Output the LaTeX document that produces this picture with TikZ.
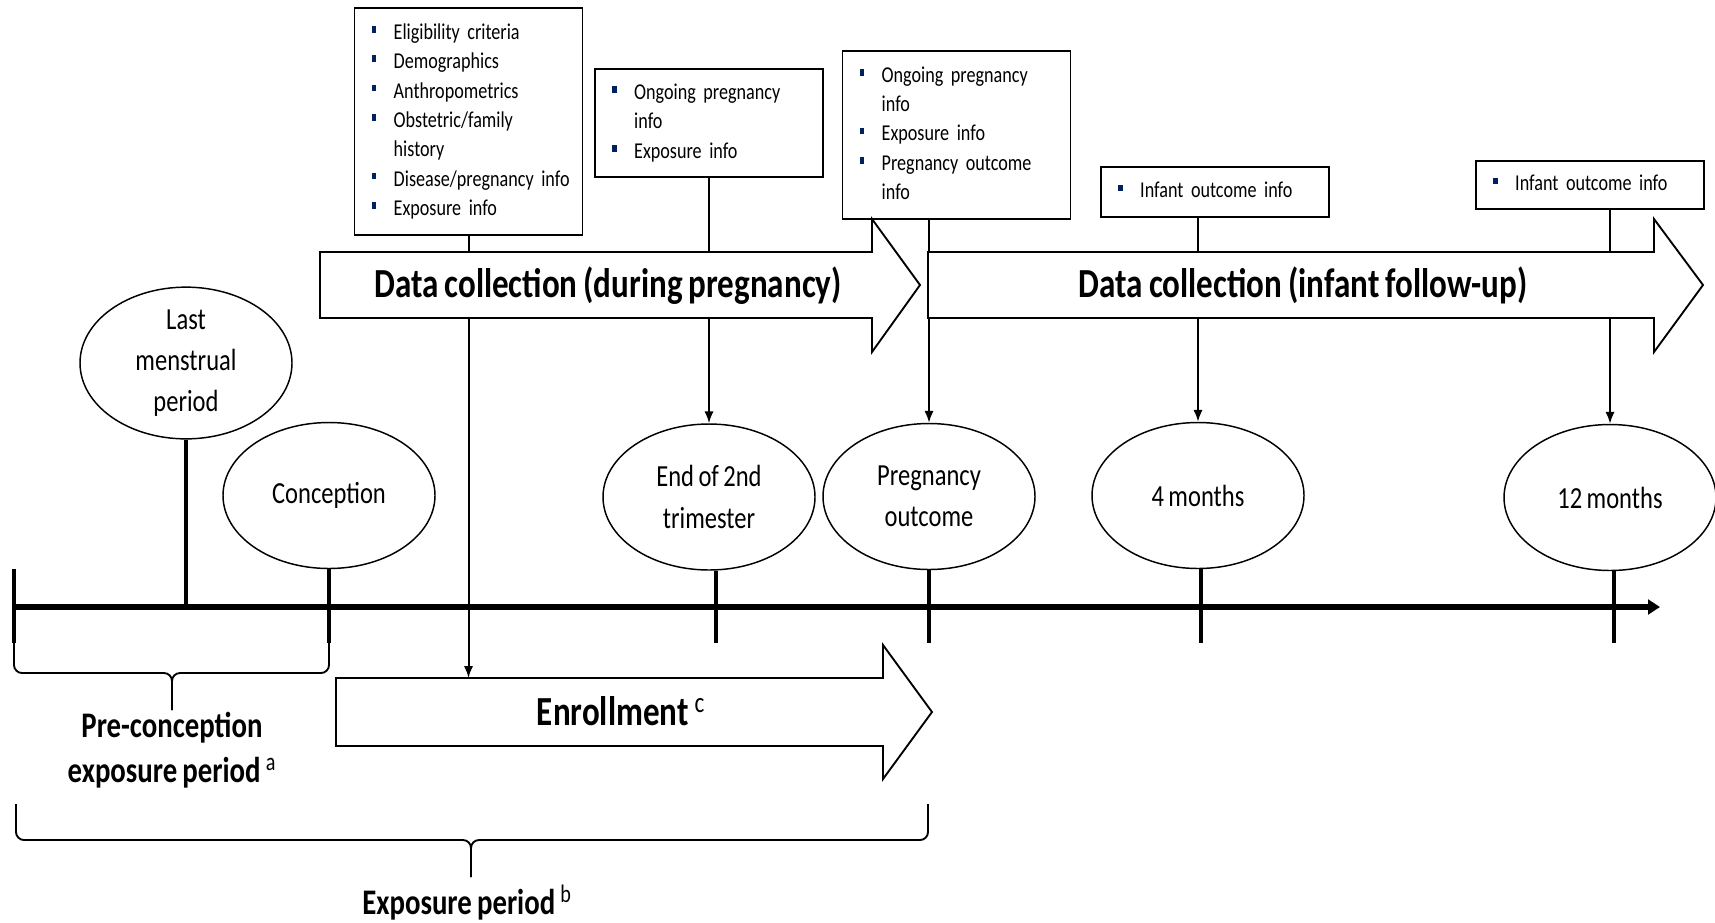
\documentclass[tikz,border=0pt]{standalone}
\usepackage{fontspec}
\setmainfont{Carlito}[FakeStretch=0.8,WordSpace=0.8]
\usepackage{tikz}
\usetikzlibrary{shapes.geometric,arrows.meta,calc}
\definecolor{bulletblue}{RGB}{0,32,96}
\newcommand{\blt}{\textcolor{bulletblue}{\rule[5pt]{3.4pt}{5pt}}}

\begin{document}
\begin{tikzpicture}[x=0.75pt,y=-0.75pt,
  event/.style={draw,ellipse,line width=1.1pt,minimum width=159pt,minimum height=109.5pt,
    inner sep=0pt,align=center,font=\fontsize{23}{31}\selectfont},
  infobox/.style={draw,line width=1.4pt,text width=145pt,inner xsep=13pt,inner ysep=0pt,
    align=left,font=\fontsize{17}{22}\selectfont},
  bigarrow/.style={draw,line width=1.4pt,fill=white,line join=miter},
  bigtext/.style={anchor=base,font=\fontsize{31}{36}\selectfont\bfseries},
  periodtext/.style={align=center,font=\fontsize{27}{34}\selectfont\bfseries},
  stem/.style={line width=3pt},
  feed/.style={line width=1.5pt,-{Latex[length=9pt,width=7pt]}},
  brace/.style={line width=1.4pt,rounded corners=6pt}]
  \useasboundingbox (0,0) rectangle (1715,922);

  % time points
  \node[event] (lmp) at (186,363) {Last\\menstrual\\period};
  \node[event] (con) at (329,495.5) {Conception};
  \node[event] (tri) at (709,497) {End of 2nd\\trimester};
  \node[event] (po) at (929,496.5) {Pregnancy\\outcome};
  \node[event] (m4) at (1198,495.5) {4 months};
  \node[event] (m12) at (1610,497.5) {12 months};

  % what is collected
  \node[infobox,minimum height=170pt] (elig) at (468.5,121.5) {%
    \begin{tabular}{@{}l@{\hspace{13pt}}l@{}}
      \blt & Eligibility criteria\\
      \blt & Demographics\\
      \blt & Anthropometrics\\
      \blt & Obstetric/family\\
           & history\\
      \blt & Disease/pregnancy info\\
      \blt & Exposure info
    \end{tabular}};
  \node[infobox,minimum height=81pt] (dp2) at (709,123) {%
    \begin{tabular}{@{}l@{\hspace{13pt}}l@{}}
      \blt & Ongoing pregnancy\\
           & info\\
      \blt & Exposure info
    \end{tabular}};
  \node[infobox,minimum height=126pt] (dpo) at (956.5,135) {%
    \begin{tabular}{@{}l@{\hspace{13pt}}l@{}}
      \blt & Ongoing pregnancy\\
           & info\\
      \blt & Exposure info\\
      \blt & Pregnancy outcome\\
           & info
    \end{tabular}};
  \node[infobox,minimum height=37.5pt] (inf4) at (1215,192) {%
    \begin{tabular}{@{}l@{\hspace{13pt}}l@{}}
      \blt & Infant outcome info
    \end{tabular}};
  \node[infobox,minimum height=36pt] (inf12) at (1590,185) {%
    \begin{tabular}{@{}l@{\hspace{13pt}}l@{}}
      \blt & Infant outcome info
    \end{tabular}};

  % timeline
  \coordinate (axis) at (14,607);
  \coordinate (axisend) at (1660,607);
  \coordinate (enrtop) at (469,678);
  \path[draw,line width=4pt,-{Triangle[length=9pt,width=11pt]}] (axis) -- (axisend);
  \path[draw,stem] ($(axis)+(0,-38)$) -- ($(axis)+(0,36)$);
  \path[draw,stem] (lmp.south) -- (lmp.south |- axis);
  \foreach \e/\dx in {con/0,tri/7,po/0,m4/3,m12/4}{
    \path[draw,stem] ($(\e.south)+(\dx,0)$) -- ($(\e.south |- axis)+(\dx,36)$);
  }

  \path[draw,feed] (elig.south) -- (elig.south |- enrtop);
  \path[draw,feed] (dp2.south) -- (tri.north);
  \path[draw,feed] (dpo.south -| po.north) -- (po.north);
  \path[draw,feed] (inf4.south -| m4.north) -- (m4.north);
  \path[draw,feed] (inf12.south -| m12.north) -- (m12.north);

  % block arrows
  \path[bigarrow] (320,252) -- (872,252) -- (872,219) -- (920,285) -- (872,352) -- (872,318) -- (320,318) -- cycle;
  \node[bigtext] (dcp) at (608,297) {Data collection (during pregnancy)};
  \path[bigarrow] (928,252) -- (1654,252) -- (1654,219) -- (1703,285) -- (1654,352) -- (1654,318) -- (928,318) -- cycle;
  \node[bigtext] (dci) at (1303,297) {Data collection (infant follow-up)};
  \path[bigarrow] (336,678) -- (883,678) -- (883,645) -- (932,712) -- (883,779) -- (883,746) -- (336,746) -- cycle;
  \node[bigtext] (enr) at (621,725) {Enrollment \textsuperscript{\mdseries c}};

  % periods
  \path[draw,brace] (14,643) -- (14,673) -- (172,673) -- (172,710);
  \path[draw,brace] (329,643) -- (329,673) -- (172,673) -- (172,710);
  \node[periodtext] (pre) at (172,750) {Pre-conception\\exposure period \textsuperscript{\mdseries a}};
  \path[draw,brace] (16,804) -- (16,840) -- (471,840) -- (471,877);
  \path[draw,brace] (928,804) -- (928,840) -- (471,840) -- (471,877);
  \node[periodtext] (expo) at (467,903) {Exposure period \textsuperscript{\mdseries b}};
\end{tikzpicture}
\end{document}
